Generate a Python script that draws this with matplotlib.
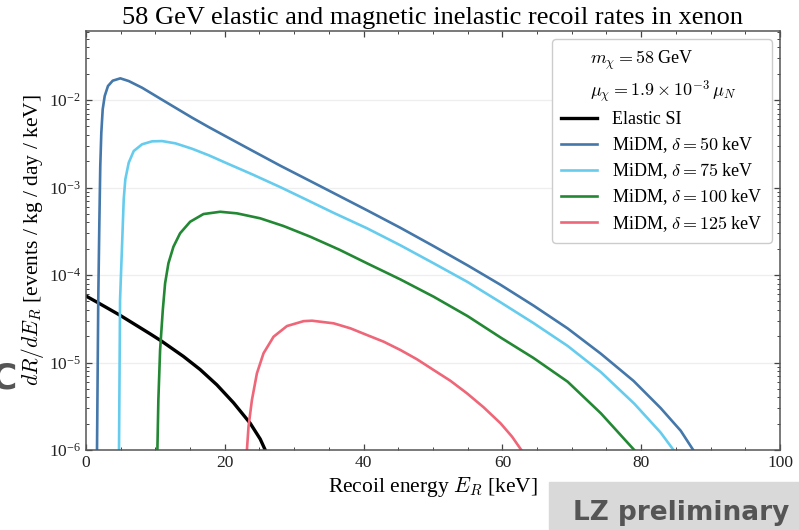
"""
Elastic vs magnetic inelastic (MiDM) recoil rates in xenon, 58 GeV WIMP
"""

import numpy as np
import matplotlib
matplotlib.use("Agg")
import matplotlib.pyplot as plt
from matplotlib.ticker import MultipleLocator, LogLocator, NullFormatter

# -----------------------
# Data (E_R in keV, log10 of rate)
# -----------------------
elastic_E = [0.0, 1.77, 4.91, 9.24, 10.92, 14.04, 16.45, 18.86, 21.26, 23.67, 25.11, 25.83]
elastic_log = [-4.24, -4.318, -4.46, -4.672, -4.757, -4.93, -5.08, -5.255, -5.46,
               -5.695, -5.875, -6.0]

d50_E = [1.59, 1.77, 1.92, 2.06, 2.21, 2.41, 2.70, 3.17, 3.85, 4.95, 6.16, 8.08, 10.49,
         12.89, 15.3, 17.71, 20.1, 23.95, 27.99, 33.77, 40.5, 45.3, 50.1, 55.0, 59.7,
         64.5, 69.4, 74.2, 78.9, 82.8, 85.7, 87.5]
d50_log = [-6.0, -4.286, -3.44, -2.754, -2.374, -2.106, -1.954, -1.84, -1.779, -1.752,
           -1.783, -1.859, -1.974, -2.088, -2.202, -2.31, -2.413, -2.578, -2.75, -2.985,
           -3.26, -3.46, -3.67, -3.89, -4.11, -4.35, -4.61, -4.90, -5.21, -5.52, -5.78,
           -6.0]

d75_E = [4.76, 4.91, 5.30, 5.44, 5.67, 6.16, 6.88, 8.08, 9.52, 10.97, 12.89, 15.3, 17.71,
         20.1, 23.95, 27.99, 30.88, 35.7, 40.5, 45.3, 50.1, 55.0, 59.7, 64.5, 69.4, 74.2,
         79.0, 82.8, 84.66]
d75_log = [-6.0, -4.286, -3.44, -3.135, -2.906, -2.716, -2.583, -2.506, -2.472, -2.469,
           -2.495, -2.557, -2.632, -2.716, -2.849, -2.995, -3.105, -3.29, -3.466, -3.66,
           -3.866, -4.08, -4.31, -4.55, -4.81, -5.11, -5.47, -5.80, -6.0]

d100_E = [10.29, 10.43, 10.68, 11.07, 11.4, 11.88, 12.6, 13.56, 15.01, 16.93, 19.34,
          21.75, 25.11, 28.47, 32.32, 36.5, 40.5, 45.3, 50.1, 55.0, 59.74, 64.5, 69.4,
          74.2, 79.0]
d100_log = [-6.0, -5.429, -4.857, -4.4, -4.095, -3.866, -3.677, -3.523, -3.391, -3.303,
            -3.277, -3.295, -3.352, -3.44, -3.562, -3.71, -3.866, -4.05, -4.248, -4.47,
            -4.714, -4.949, -5.219, -5.581, -6.0]

d125_E = [23.19, 23.42, 23.91, 24.63, 25.58, 27.03, 28.96, 31.36, 32.57, 35.69, 38.1,
          40.5, 42.9, 45.31, 47.7, 50.1, 52.5, 54.9, 57.3, 59.74, 61.4, 62.73]
d125_log = [-6.0, -5.733, -5.429, -5.124, -4.895, -4.705, -4.583, -4.527, -4.522, -4.552,
            -4.609, -4.686, -4.762, -4.857, -4.963, -5.086, -5.208, -5.352, -5.512,
            -5.695, -5.848, -6.0]

labels = ["Elastic SI", r"MiDM, $\delta = 50$ keV", r"MiDM, $\delta = 75$ keV",
          r"MiDM, $\delta = 100$ keV", r"MiDM, $\delta = 125$ keV"]
colors = ["black", "#4477AA", "#66CCEE", "#228833", "#EE6677"]

# -----------------------
# Style
# -----------------------
plt.rcParams["font.family"] = ["Liberation Serif", "DejaVu Serif"]
plt.rcParams["mathtext.fontset"] = "cm"

fig = plt.figure(figsize=(7.99, 5.30), dpi=100)
ax = fig.add_axes([0.1076, 0.1509, 0.8686, 0.7906])

series = [(elastic_E, elastic_log), (d50_E, d50_log), (d75_E, d75_log),
          (d100_E, d100_log), (d125_E, d125_log)]

# text-only legend entries
ax.plot([], [], " ", label=r"$m_\chi = 58$ GeV")
ax.plot([], [], " ", label=r"$\mu_\chi = 1.9 \times 10^{-3}\, \mu_N$")
for (E, lg), lab, c in zip(series, labels, colors):
    lw = 2.4 if c == "black" else 1.9
    ax.plot(E, 10 ** np.array(lg), color=c, lw=lw, label=lab,
            solid_joinstyle="round")

ax.set_yscale("log")
ax.set_xlim(0, 100)
ax.set_ylim(1e-6, 10 ** -1.211)

ax.xaxis.set_major_locator(MultipleLocator(20))
ax.xaxis.set_minor_locator(MultipleLocator(5))
ax.yaxis.set_major_locator(LogLocator(base=10, numticks=10))
ax.yaxis.set_minor_locator(LogLocator(base=10, subs=np.arange(2, 10), numticks=10))
ax.yaxis.set_minor_formatter(NullFormatter())

ax.tick_params(which="both", direction="in", top=True, right=True, colors="#444444",
               labelcolor="#222222", labelsize=12.5)
ax.tick_params(which="major", length=4.5, width=0.9)
ax.tick_params(which="minor", length=2.5, width=0.7)
for sp in ax.spines.values():
    sp.set_color("#555555")
    sp.set_linewidth(1.1)

ax.yaxis.grid(True, which="major", color="#eeeeee", lw=0.9)
ax.set_axisbelow(True)

ax.set_xlabel(r"Recoil energy $E_R$ [keV]", fontsize=15.5, labelpad=3)
ax.set_ylabel(r"$dR/dE_R$ [events / kg / day / keV]", fontsize=15.5, labelpad=2)
ax.set_title("58 GeV elastic and magnetic inelastic recoil rates in xenon",
             fontsize=19, pad=5)

leg = ax.legend(loc="upper right", fontsize=13, frameon=True, fancybox=True,
                edgecolor="#cccccc", framealpha=1.0, handlelength=2.0,
                handletextpad=0.8, labelspacing=0.36, borderpad=0.5,
                borderaxespad=0.0, bbox_to_anchor=(0.988, 0.98))
for t in leg.get_texts()[:2]:
    t.set_x(-22)

# overlay marks from the slide
fig.text(-0.012, 0.285, "C", fontsize=26, color="#555555", family="DejaVu Sans",
         fontweight="bold", ha="left", va="center")
fig.patches.append(plt.Rectangle((549 / 799, 0), 1 - 549 / 799, 48 / 530,
                                 transform=fig.transFigure, color="#d9d9d9", zorder=5))
fig.text(0.988, 0.032, "LZ preliminary", fontsize=19, color="#555555",
         family="DejaVu Sans", fontweight="bold", ha="right", va="center", zorder=6)

fig.savefig("out.png", dpi=100)
